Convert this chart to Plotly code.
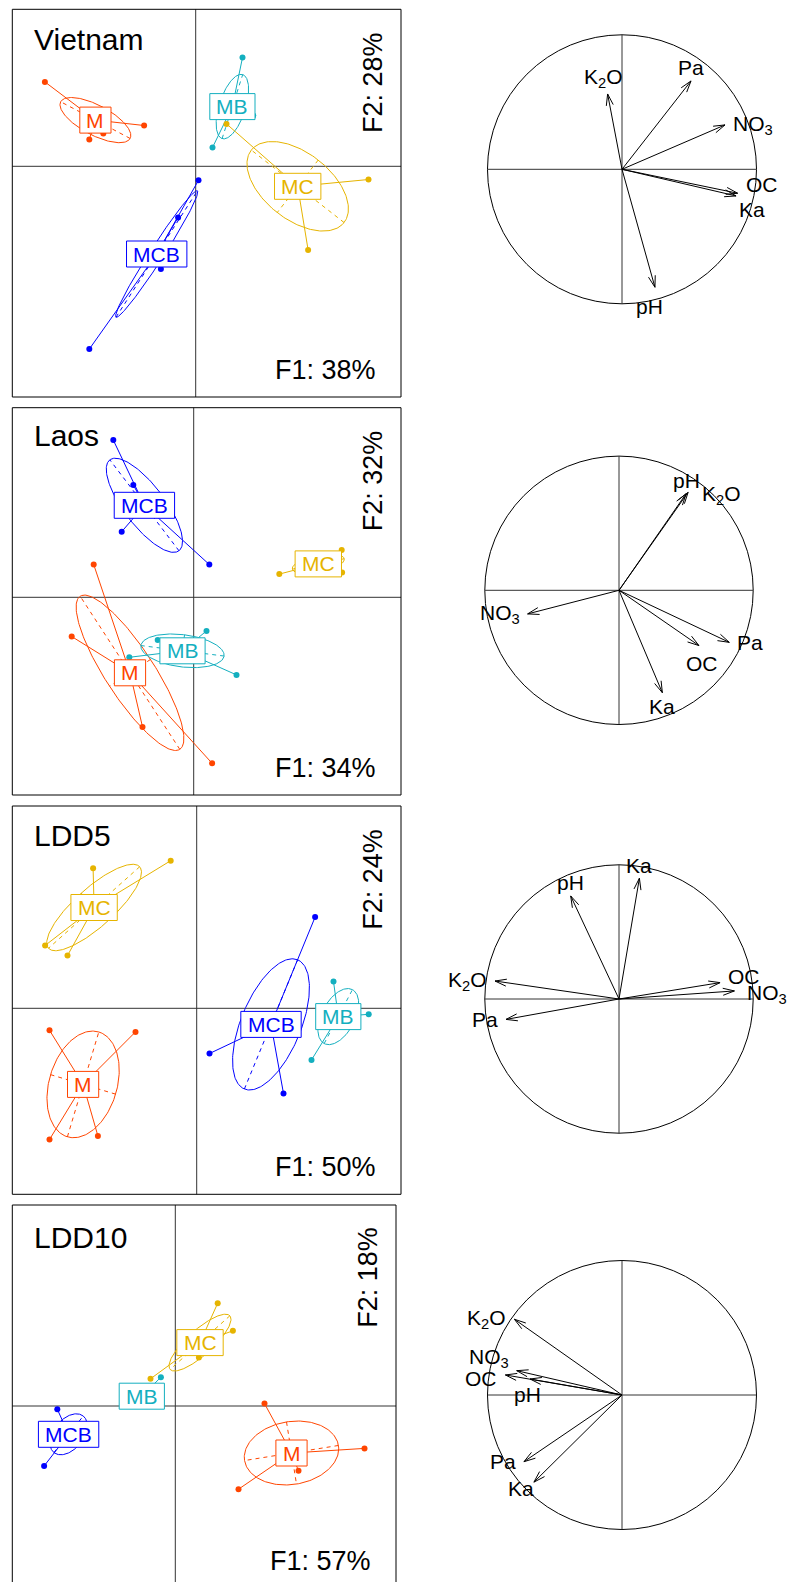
import numpy as np
import plotly.graph_objects as go

W, H = 787, 1582
SCALE = 40.0  # pixels per score unit (equal aspect)

# ---------------- data ----------------
sites = ["Vietnam", "Laos", "LDD5", "LDD10"]
f1_pct = [38, 34, 50, 57]
f2_pct = [28, 32, 24, 18]
groups = ["M", "MB", "MC", "MCB"]

vietnam_f1 = {"M": [-3.77, -1.29, -2.66, -2.31], "MB": [1.17, 0.42, 1.44, 0.64],
              "MC": [0.77, 4.32, 2.81, 2.30], "MCB": [0.07, -0.44, -0.87, -2.66]}
vietnam_f2 = {"M": [2.11, 1.02, 0.67, 0.82], "MB": [2.72, 0.47, 1.27, 1.51],
              "MC": [1.06, -0.33, -2.09, -0.64], "MCB": [-0.35, -1.28, -2.57, -4.57]}
laos_f1 = {"M": [-2.50, -3.05, -1.28, 0.46], "MB": [0.32, 1.07, -0.90, -1.61],
           "MC": [2.14, 3.70, 3.71, 2.91], "MCB": [-2.01, -1.51, -1.80, 0.39]}
laos_f2 = {"M": [0.82, -0.98, -3.24, -4.15], "MB": [-0.84, -1.94, -1.07, -1.50],
           "MC": [0.58, 1.18, 0.62, 0.96], "MCB": [3.93, 2.81, 1.64, 0.82]}
ldd5_f1 = {"M": [-3.68, -1.53, -3.68, -2.47], "MB": [3.42, 4.30, 2.87, 3.57],
           "MC": [-2.59, -0.65, -3.79, -3.23], "MCB": [2.96, 0.32, 2.17, 1.98]}
ldd5_f2 = {"M": [-0.55, -0.59, -3.28, -3.19], "MB": [0.67, -0.15, -1.29, -0.06],
           "MC": [3.50, 3.69, 1.57, 1.32], "MCB": [2.28, -1.13, -2.13, -0.63]}
ldd10_f1 = {"M": [2.23, 4.73, 1.58, 3.08], "MB": [-0.36, -1.18, -0.88, -0.93],
            "MC": [1.06, 1.44, 0.59, -0.62], "MCB": [-2.95, -3.28, -2.12, -2.32]}
ldd10_f2 = {"M": [0.06, -1.06, -2.08, -1.62], "MB": [0.72, 0.15, 0.05, 0.06],
            "MC": [2.57, 1.88, 1.21, 0.68], "MCB": [-0.08, -1.50, -0.54, -0.71]}

variables = ["pH", "OC", "NO3", "Pa", "K2O", "Ka"]
vietnam_c1 = [0.245, 0.86, 0.766, 0.513, -0.107, 0.848]
vietnam_c2 = [-0.877, -0.178, 0.33, 0.657, 0.56, -0.198]
laos_c1 = [0.50, 0.596, -0.681, 0.822, 0.515, 0.323]
laos_c2 = [0.72, -0.412, -0.176, -0.388, 0.73, -0.763]
ldd5_c1 = [-0.36, 0.753, 0.86, -0.842, -0.924, 0.152]
ldd5_c2 = [0.768, 0.122, 0.06, -0.152, 0.134, 0.9]
ldd10_c1 = [-0.684, -0.867, -0.783, -0.729, -0.80, -0.655]
ldd10_c2 = [0.119, 0.149, 0.181, -0.496, 0.563, -0.648]

scores = [(vietnam_f1, vietnam_f2), (laos_f1, laos_f2), (ldd5_f1, ldd5_f2), (ldd10_f1, ldd10_f2)]
corrs = [(vietnam_c1, vietnam_c2), (laos_c1, laos_c2), (ldd5_c1, ldd5_c2), (ldd10_c1, ldd10_c2)]

# ---------------- styles / layout ----------------
colors = {"M": "#FF4500", "MB": "#14AFBF", "MC": "#E6B400", "MCB": "#0000FF"}
FONT = "Liberation Sans, Arial, Helvetica, sans-serif"

# left panels: box in pixels and origin pixel
panels = [
    dict(left=12.3, top=9.3, right=401, bottom=397, ox=195.7, oy=166.3, tdy=30.5),
    dict(left=12.3, top=407.7, right=401, bottom=795, ox=193.7, oy=597.3, tdy=28),
    dict(left=12.3, top=806, right=401, bottom=1194.3, ox=196.7, oy=1008.3, tdy=29),
    dict(left=12.3, top=1205, right=396, bottom=1588, ox=175.3, oy=1406, tdy=32),
]
# circles: centre x, centre y, radius (pixels)
circles = [(622, 169.3, 134.5), (619, 590.3, 134.2), (619, 999, 134.2), (622, 1395, 134.5)]

var_labels = {"pH": "pH", "OC": "OC", "NO3": "NO<sub>3</sub>", "Pa": "Pa",
              "K2O": "K<sub>2</sub>O", "Ka": "Ka"}
label_override = {
    (0, "K2O"): ("top", -4, 3),
    (0, "OC"): ("right", 0, 9),
    (0, "Ka"): ("right", -5, -14),
    (0, "pH"): ("bottom", -5, -5),
    (1, "K2O"): ("right", 6, -3),
    (1, "OC"): ("bottom", 3, -4),
    (2, "OC"): ("right", 0, 6),
    (2, "NO3"): ("right", 5, -3),
    (3, "NO3"): ("left", 0, 13),
    (3, "OC"): ("left", 0, -4),
    (3, "pH"): ("bottom", -3, -2),
    (3, "Ka"): ("left", 8, -6),
}
char_w = {"M": 0.833, "B": 0.667, "C": 0.722}
LAB_SIZE = 21

fig = go.Figure()
shapes = []
annotations = []


def names(k):
    return ("x" if k == 1 else f"x{k}", "y" if k == 1 else f"y{k}")


def lname(k):
    return ("xaxis" if k == 1 else f"xaxis{k}", "yaxis" if k == 1 else f"yaxis{k}")


def px2paper(x, y):
    return x / W, 1 - y / H


layout_axes = {}
for i, p in enumerate(panels):
    k = i + 1
    xn, yn = names(k)
    xl, yl = lname(k)
    bvis = min(p["bottom"], H)
    layout_axes[xl] = dict(domain=[p["left"] / W, p["right"] / W],
                           range=[(p["left"] - p["ox"]) / SCALE, (p["right"] - p["ox"]) / SCALE],
                           visible=False, fixedrange=True, anchor=yn)
    layout_axes[yl] = dict(domain=[1 - bvis / H, 1 - p["top"] / H],
                           range=[(p["oy"] - bvis) / SCALE, (p["oy"] - p["top"]) / SCALE],
                           visible=False, fixedrange=True, anchor=xn)
    # cross lines
    shapes.append(dict(type="line", xref=xn, yref=f"{yn} domain", x0=0, x1=0, y0=0, y1=1,
                       line=dict(color="#333333", width=1), layer="below"))
    shapes.append(dict(type="line", xref=f"{xn} domain", yref=yn, x0=0, x1=1, y0=0, y1=0,
                       line=dict(color="#333333", width=1), layer="below"))
    # border
    x0, y0 = px2paper(p["left"], p["bottom"])
    x1, y1 = px2paper(p["right"], p["top"])
    shapes.append(dict(type="rect", xref="paper", yref="paper", x0=x0, x1=x1, y0=y0, y1=y1,
                       line=dict(color="black", width=1), layer="above"))

    f1d, f2d = scores[i]
    for g in groups:
        xs = np.array(f1d[g], dtype=float)
        ys = np.array(f2d[g], dtype=float)
        mx, my = xs.mean(), ys.mean()
        cov = np.cov(np.vstack([xs, ys]), bias=True)
        vals, vecs = np.linalg.eigh(cov)
        order = np.argsort(vals)[::-1]
        vals, vecs = vals[order], vecs[:, order]
        a, b = np.sqrt(np.maximum(vals, 0))
        t = np.linspace(0, 2 * np.pi, 200)
        ex = mx + a * np.cos(t) * vecs[0, 0] + b * np.sin(t) * vecs[0, 1]
        ey = my + a * np.cos(t) * vecs[1, 0] + b * np.sin(t) * vecs[1, 1]
        col = colors[g]
        fig.add_trace(go.Scatter(x=ex, y=ey, mode="lines", line=dict(color=col, width=1),
                                 xaxis=xn, yaxis=yn, hoverinfo="skip", showlegend=False))
        axx = [mx - a * vecs[0, 0], mx + a * vecs[0, 0], None, mx - b * vecs[0, 1], mx + b * vecs[0, 1]]
        axy = [my - a * vecs[1, 0], my + a * vecs[1, 0], None, my - b * vecs[1, 1], my + b * vecs[1, 1]]
        fig.add_trace(go.Scatter(x=axx, y=axy, mode="lines",
                                 line=dict(color=col, width=1, dash="4px,4px"),
                                 xaxis=xn, yaxis=yn, hoverinfo="skip", showlegend=False))
        sx, sy = [], []
        for px_, py_ in zip(xs, ys):
            sx += [mx, px_, None]
            sy += [my, py_, None]
        fig.add_trace(go.Scatter(x=sx, y=sy, mode="lines", line=dict(color=col, width=1),
                                 xaxis=xn, yaxis=yn, hoverinfo="skip", showlegend=False))
        fig.add_trace(go.Scatter(x=xs, y=ys, mode="markers", marker=dict(color=col, size=6),
                                 xaxis=xn, yaxis=yn, hoverinfo="skip", showlegend=False))
        # label box (white, coloured border) + label text
        half_w = (sum(char_w[c] for c in g) * LAB_SIZE + 11.7) / 2 + 1
        half_h = 13
        shapes.append(dict(type="rect", xref=xn, yref=yn,
                           x0=mx - half_w / SCALE, x1=mx + half_w / SCALE,
                           y0=my - half_h / SCALE, y1=my + half_h / SCALE,
                           fillcolor="white", line=dict(color=col, width=1), layer="above"))
        annotations.append(dict(xref=xn, yref=yn, x=mx, y=my, text=g, showarrow=False,
                                font=dict(family=FONT, size=LAB_SIZE, color=col),
                                xanchor="center", yanchor="middle"))

    # texts
    tx, ty = px2paper(p["left"] + 19.5, p["top"] + p["tdy"])
    annotations.append(dict(xref="paper", yref="paper", x=tx, y=ty, text=sites[i], showarrow=False,
                            xanchor="left", yanchor="middle",
                            font=dict(family=FONT, size=30, color="black")))
    tx, ty = px2paper(p["right"] - 23, p["bottom"] - 27)
    annotations.append(dict(xref="paper", yref="paper", x=tx, y=ty, text=f"F1: {f1_pct[i]}%",
                            showarrow=False, xanchor="right", yanchor="middle",
                            font=dict(family=FONT, size=27, color="black")))
    ph = p["bottom"] - p["top"]
    tx, ty = px2paper(p["right"] - 28, p["top"] + 0.19 * ph)
    annotations.append(dict(xref="paper", yref="paper", x=tx, y=ty, text=f"F2: {f2_pct[i]}%",
                            showarrow=False, xanchor="center", yanchor="middle", textangle=-90,
                            font=dict(family=FONT, size=27, color="black")))

# correlation circles
R0 = 160.0
for i, (cx, cy, r) in enumerate(circles):
    k = 5 + i
    xn, yn = names(k)
    xl, yl = lname(k)
    layout_axes[xl] = dict(domain=[(cx - R0) / W, (cx + R0) / W], range=[-R0 / r, R0 / r],
                           visible=False, fixedrange=True, anchor=yn)
    layout_axes[yl] = dict(domain=[1 - (cy + R0) / H, 1 - (cy - R0) / H], range=[-R0 / r, R0 / r],
                           visible=False, fixedrange=True, anchor=xn)
    shapes.append(dict(type="circle", xref=xn, yref=yn, x0=-1, y0=-1, x1=1, y1=1,
                       line=dict(color="black", width=1), layer="below"))
    shapes.append(dict(type="line", xref=xn, yref=yn, x0=-1, x1=1, y0=0, y1=0,
                       line=dict(color="#333333", width=1), layer="below"))
    shapes.append(dict(type="line", xref=xn, yref=yn, x0=0, x1=0, y0=-1, y1=1,
                       line=dict(color="#333333", width=1), layer="below"))
    c1, c2 = corrs[i]
    hl = 12.0 / r
    ang = np.deg2rad(17)
    lx, ly = [], []
    for v, vx, vy in zip(variables, c1, c2):
        lx += [0, vx, None]
        ly += [0, vy, None]
        th = np.arctan2(vy, vx)
        for s in (1, -1):
            lx += [vx, vx - hl * np.cos(th + s * ang), None]
            ly += [vy, vy - hl * np.sin(th + s * ang), None]
        # label placement (sector rule)
        if vx > vy and vx > -vy:
            pos = "right"
        elif vx > vy and vx <= -vy:
            pos = "bottom"
        elif vx <= vy and vx <= -vy:
            pos = "left"
        else:
            pos = "top"
        dx, dy = 0, 0
        if (i, v) in label_override:
            pos, dx, dy = label_override[(i, v)]
        if pos == "right":
            xa, ya, xs_, ys_ = "left", "middle", 6, 0
        elif pos == "left":
            xa, ya, xs_, ys_ = "right", "middle", -6, 0
        elif pos == "top":
            xa, ya, xs_, ys_ = "center", "middle", 0, 13
        else:
            xa, ya, xs_, ys_ = "center", "middle", 0, -14
        annotations.append(dict(xref=xn, yref=yn, x=vx, y=vy, text=var_labels[v], showarrow=False,
                                xanchor=xa, yanchor=ya, xshift=xs_ + dx, yshift=ys_ + dy,
                                font=dict(family=FONT, size=21, color="black")))
    fig.add_trace(go.Scatter(x=lx, y=ly, mode="lines", line=dict(color="black", width=1),
                             xaxis=xn, yaxis=yn, hoverinfo="skip", showlegend=False))

fig.update_layout(width=W, height=H, margin=dict(l=0, r=0, t=0, b=0),
                  paper_bgcolor="white", plot_bgcolor="rgba(0,0,0,0)",
                  shapes=shapes, annotations=annotations, showlegend=False, **layout_axes)
fig.write_html("out.html", config={"displayModeBar": False},
               post_script="document.body.style.margin='0px';document.body.style.overflow='hidden';")
